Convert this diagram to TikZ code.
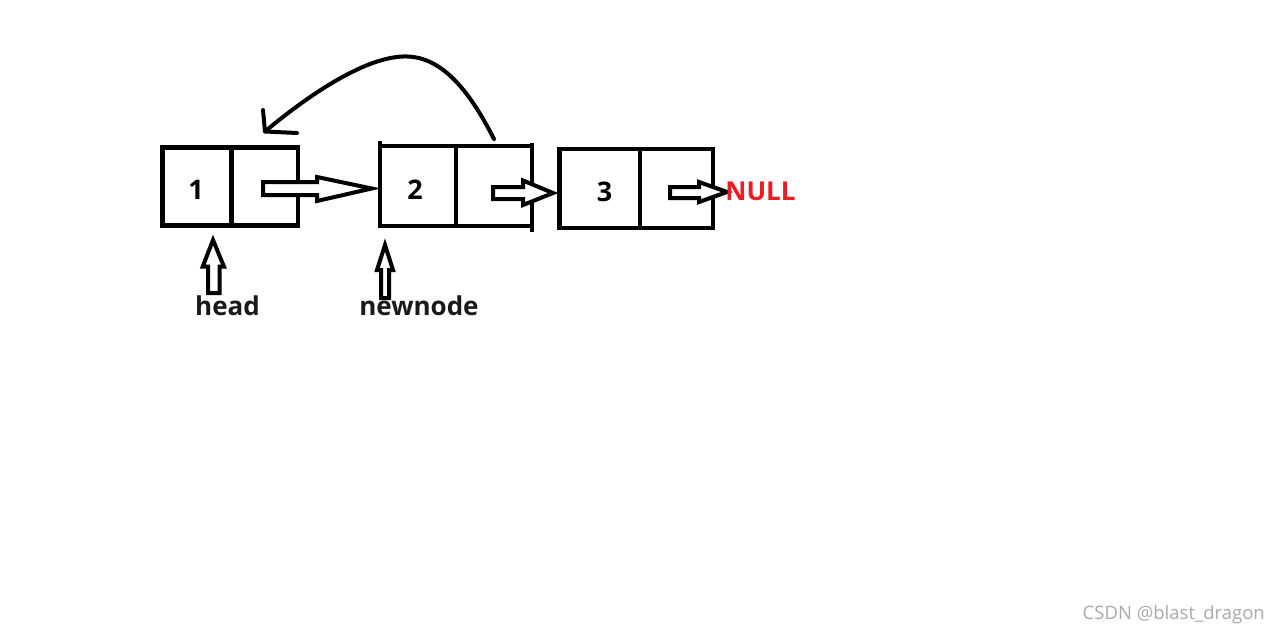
\documentclass[tikz,border=0pt]{standalone}
\usepackage{fontspec}
\setmainfont{Open Sans}
\begin{document}
\begin{tikzpicture}[x=1pt,y=-1pt,
  cell/.style={draw=black,line width=4.2pt,line join=miter},
  harrow/.style={draw=black,line width=4pt,line join=miter,fill=white},
  num/.style={font=\fontsize{27}{27}\selectfont\bfseries,text=black,inner sep=0pt},
  lbl/.style={font=\fontsize{26}{26}\selectfont\bfseries,text=black!90,inner sep=0pt,anchor=base},
  curve/.style={draw=black,line width=4pt,line cap=round,line join=round}]
\useasboundingbox (0,0) rectangle (1280,635);
\fill[white] (0,0) rectangle (1280,635);
% boxes
\draw[cell] (162.5,147.5) rectangle (298,225.5);
\draw[cell] (231.5,147.5) -- (231.5,227);
\draw[cell] (379.7,146) -- (532,146);
\draw[cell] (379.7,226) -- (532,226);
\draw[cell] (379.7,141) -- (379.7,228);
\draw[cell] (456,144) -- (456,228);
\draw[cell] (532,143) -- (532,232);
\draw[cell] (559.5,149) rectangle (713,228);
\draw[cell] (640,149) -- (640,230);
% numbers
\node[num] (one) at (196,190) {1};
\node[num] (two) at (415,190) {2};
\node[num] (three) at (604.5,192) {3};
% hollow right arrows
\draw[harrow] (263,182)--(317,182)--(317,177)--(371.7,188.5)--(317,201)--(317,195)--(263,195)--cycle;
\draw[harrow] (493,187)--(523,187)--(523,180.5)--(553,193)--(523,205)--(523,199)--(493,199)--cycle;
\draw[harrow] (670,187)--(699,187)--(699,182)--(727,192)--(699,202)--(699,198)--(670,198)--cycle;
% up arrows
\draw[harrow] (208,293)--(208,266.7)--(202.7,266.7)--(213,240)--(224,266.7)--(219.5,266.7)--(219.5,293)--cycle;
\draw[harrow] (381,298)--(381,270)--(377,270)--(385,245)--(393,270)--(389,270)--(389,298)--cycle;
% labels
\node[lbl] (head) at (227.5,315) {head};
\node[lbl] (newnode) at (419,315) {newnode};
\node[font=\fontsize{26}{26}\selectfont\bfseries,text={rgb,255:red,237;green,28;blue,36},inner sep=0pt,anchor=base] (null) at (760.5,200) {NULL};
% curved arrow
\coordinate (cstart) at (494,139);
\coordinate (ctip) at (265,131.5);
\draw[curve] (cstart) .. controls (468,88) and (440,55) .. (403,56.5) .. controls (362,58) and (305,98) .. (ctip);
\draw[curve] (263,110) -- (ctip) -- (297,133);
% watermark
\node[font=\fontsize{18.5}{18.5}\selectfont,text={rgb,255:red,170;green,170;blue,170},inner sep=0pt,anchor=base east] (wm) at (1265,619) {CSDN @blast\_dragon};
\end{tikzpicture}
\end{document}
